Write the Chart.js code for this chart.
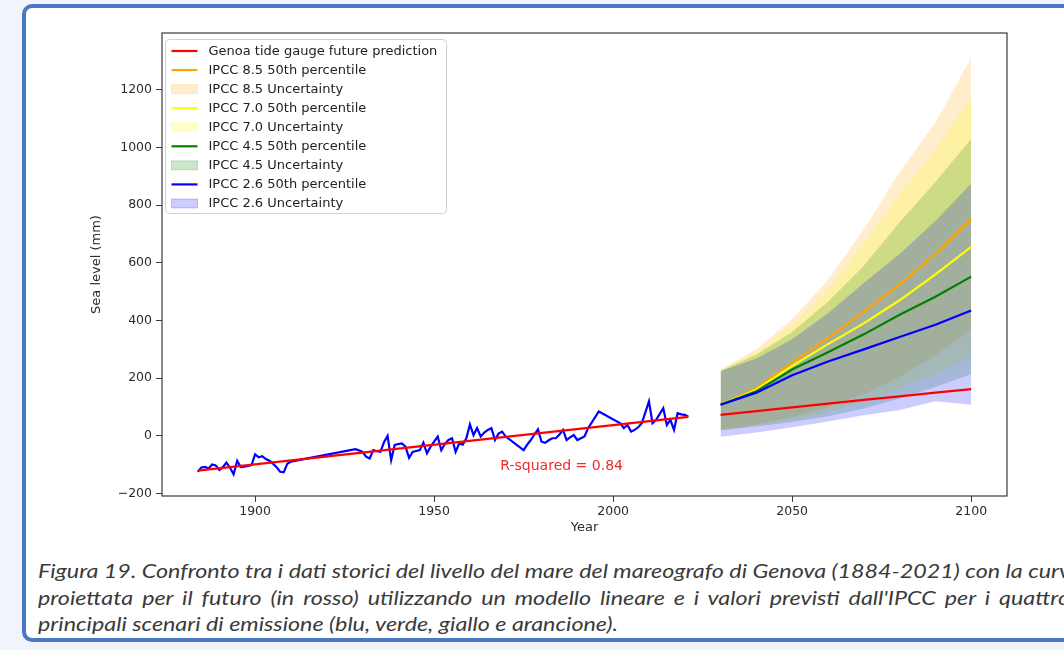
<!DOCTYPE html>
<html>
<head>
<meta charset="utf-8">
<script src="https://cdn.jsdelivr.net/npm/chart.js@4.4.1/dist/chart.umd.min.js"></script>
<style>
  html, body { margin: 0; padding: 0; }
  body { width: 1064px; height: 650px; background: #f1f5fb; overflow: hidden; position: relative; }
  #frame { position: absolute; left: 22px; top: 4px; width: 1090px; height: 638px; background: #fff;
           border: 4px solid #4a78c4; border-radius: 10px; box-sizing: border-box; }
  #chartBox { position: absolute; left: 0; top: 0; width: 1064px; height: 540px; }
  #caption { position: absolute; left: 38px; top: 558px; font-family: Lato, "Open Sans", sans-serif;
             font-style: italic; font-size: 19px; line-height: 26.5px; color: #3a3a3a;
             white-space: nowrap; transform-origin: 0 0; }
  #caption .just { text-align: justify; text-align-last: justify; }
</style>
</head>
<body>
<div id="frame"></div>
<div id="chartBox"><canvas id="seaLevelChart"></canvas></div>
<div id="caption">
  <div class="just">Figura 19. Confronto tra i dati storici del livello del mare del mareografo di Genova (1884-2021) con la curva</div>
  <div class="just">proiettata per il futuro (in rosso) utilizzando un modello lineare e i valori previsti dall'IPCC per i quattro</div>
  <div><span id="lastLine">principali scenari di emissione (blu, verde, giallo e arancione).</span></div>
</div>
<script>
// historical tide gauge record (mm), years with gaps are simply joined
const histYears = [
  1884, 1885, 1886, 1887, 1888, 1889, 1890, 1891, 1892, 1893, 1894, 1895, 1896, 1897, 1898, 1899,
  1900, 1901, 1902, 1903, 1904, 1905, 1906, 1907, 1908, 1909, 1910,
  1928, 1929, 1930, 1931, 1932, 1933, 1934, 1935, 1936, 1937, 1938, 1939, 1940, 1941, 1942, 1943,
  1944, 1945, 1946, 1947, 1948, 1949, 1950, 1951, 1952, 1953, 1954, 1955, 1956, 1957, 1958, 1959,
  1960, 1961, 1962, 1963, 1964, 1965, 1966, 1967, 1968, 1969, 1970,
  1975, 1976, 1977, 1978, 1979, 1980, 1981, 1982, 1983, 1984, 1985, 1986, 1987, 1988, 1989, 1990,
  1991, 1992, 1993, 1996,
  2002, 2003, 2004, 2005, 2006, 2007, 2008, 2010, 2011, 2012, 2014, 2015, 2016, 2017, 2018, 2019,
  2020, 2021
];
const histLevels = [
  -124, -109, -107, -113, -99, -102, -118, -108, -92, -110, -133, -86, -108, -106, -104, -101,
  -64, -74, -70, -80, -86, -96, -108, -124, -126, -96, -89,
  -46, -50, -55, -72, -78, -49, -53, -55, -22, 0, -84, -31, -28, -26, -37, -76,
  -55, -52, -49, -23, -60, -38, -20, -2, -49, -28, -14, -8, -55, -26, -30, -8,
  40, 3, 27, -2, 12, 21, 27, -14, 8, 15, -2,
  -49, -30, -14, 5, 23, -20, -24, -15, -8, -8, 5, 21, -14, -5, 3, -14,
  -8, -2, 27, 85,
  44, 27, 38, 15, 21, 30, 44, 120, 44, 56, 96, 38, 56, 21, 79, 75,
  73, 67
];

// linear fit of the record and its projection
const fitYears = [1884, 2021];
const fitLevels = [-120, 66];
const futureYears = [2030, 2040, 2050, 2060, 2070, 2080, 2090, 2100];
const genoaFuture = [73, 86, 99, 112, 125, 137, 150, 162];

// IPCC scenarios: 50th percentile and uncertainty range (mm)
const ipcc85Median = [108, 165, 255, 340, 430, 525, 630, 752];
const ipcc85Upper = [230, 300, 405, 540, 715, 915, 1085, 1310];
const ipcc85Lower = [20, 40, 65, 100, 145, 205, 280, 369];
const ipcc70Median = [108, 160, 243, 318, 390, 470, 560, 655];
const ipcc70Upper = [228, 292, 385, 505, 665, 835, 990, 1175];
const ipcc70Lower = [20, 38, 58, 85, 120, 165, 215, 275];
const ipcc45Median = [108, 155, 230, 290, 352, 420, 482, 552];
const ipcc45Upper = [226, 282, 360, 465, 590, 740, 880, 1030];
const ipcc45Lower = [20, 33, 48, 68, 95, 130, 170, 215];
const ipcc26Median = [108, 150, 210, 258, 300, 343, 385, 435];
const ipcc26Upper = [224, 268, 335, 425, 530, 630, 745, 875];
const ipcc26Lower = [-3, 12, 30, 50, 72, 90, 120, 108];

const xTicks = [1900, 1950, 2000, 2050, 2100];
const yTicks = [-200, 0, 200, 400, 600, 800, 1000, 1200];
const rSquaredText = "R-squared = 0.84";

const RED = "#ff0000", ORANGE = "#ffa500", YELLOW = "#ffff00", GREEN = "#008000", BLUE = "#0000ff";
const fillOf = { orange: "rgba(255,165,0,0.2)", yellow: "rgba(255,255,0,0.2)",
                 green: "rgba(0,128,0,0.2)", blue: "rgba(0,0,255,0.2)" };

function pts(xs, ys) {
  return xs.map((x, i) => ({ x: x, y: ys[i] }));
}

const datasets = [];
function addLine(label, xs, ys, color, order) {
  datasets.push({ label: label, data: pts(xs, ys), borderColor: color, borderWidth: 2.2,
                  pointRadius: 0, fill: false, order: order });
}
function addBand(label, lower, upper, color, order) {
  const lowIndex = datasets.length;
  datasets.push({ label: label + " low", data: pts(futureYears, lower), borderColor: "transparent",
                  borderWidth: 0, pointRadius: 0, fill: false, order: order });
  datasets.push({ label: label, data: pts(futureYears, upper), borderColor: "transparent",
                  borderWidth: 0, pointRadius: 0, backgroundColor: color,
                  fill: { target: lowIndex }, order: order });
}

// low order = drawn on top; lines sit above all the bands
addLine("Genoa tide gauge fit", fitYears, fitLevels, RED, 0);
addLine("Genoa tide gauge future prediction", futureYears, genoaFuture, RED, 0);
addLine("Genoa tide gauge", histYears, histLevels, BLUE, 1);
addLine("IPCC 2.6 50th percentile", futureYears, ipcc26Median, BLUE, 2);
addLine("IPCC 4.5 50th percentile", futureYears, ipcc45Median, GREEN, 3);
addLine("IPCC 7.0 50th percentile", futureYears, ipcc70Median, YELLOW, 4);
addLine("IPCC 8.5 50th percentile", futureYears, ipcc85Median, ORANGE, 5);
addBand("IPCC 2.6 Uncertainty", ipcc26Lower, ipcc26Upper, fillOf.blue, 6);
addBand("IPCC 4.5 Uncertainty", ipcc45Lower, ipcc45Upper, fillOf.green, 7);
addBand("IPCC 7.0 Uncertainty", ipcc70Lower, ipcc70Upper, fillOf.yellow, 8);
addBand("IPCC 8.5 Uncertainty", ipcc85Lower, ipcc85Upper, fillOf.orange, 9);

const legendItems = [
  ["Genoa tide gauge future prediction", "line", RED],
  ["IPCC 8.5 50th percentile", "line", ORANGE],
  ["IPCC 8.5 Uncertainty", "patch", fillOf.orange],
  ["IPCC 7.0 50th percentile", "line", YELLOW],
  ["IPCC 7.0 Uncertainty", "patch", fillOf.yellow],
  ["IPCC 4.5 50th percentile", "line", GREEN],
  ["IPCC 4.5 Uncertainty", "patch", fillOf.green],
  ["IPCC 2.6 50th percentile", "line", BLUE],
  ["IPCC 2.6 Uncertainty", "patch", fillOf.blue]
];

const FONT = "DejaVu Sans";
Chart.defaults.font.family = FONT;
Chart.defaults.font.size = 12.5;
Chart.defaults.color = "#2b2b2b";

const overlay = {
  id: "overlay",
  afterDraw(chart) {
    const ctx = chart.ctx;
    const ca = chart.chartArea;
    const xs = chart.scales.x, ys = chart.scales.y;
    ctx.save();

    // frame on all four sides
    ctx.strokeStyle = "#3a3a3a";
    ctx.lineWidth = 1.2;
    ctx.strokeRect(ca.left, ca.top, ca.right - ca.left, ca.bottom - ca.top);

    // r-squared note
    ctx.fillStyle = "#ee2a2a";
    ctx.font = "14px " + FONT;
    ctx.textBaseline = "middle";
    ctx.textAlign = "left";
    ctx.fillText(rSquaredText, xs.getPixelForValue(1968.5), ys.getPixelForValue(-107));

    // legend box, upper left
    const bx = ca.left + 3.5, by = ca.top + 6.5, bw = 281, bh = 174;
    ctx.beginPath();
    ctx.roundRect(bx, by, bw, bh, 4);
    ctx.fillStyle = "rgba(255,255,255,0.85)";
    ctx.fill();
    ctx.strokeStyle = "#d0d0d0";
    ctx.lineWidth = 1;
    ctx.stroke();

    ctx.font = "13px " + FONT;
    legendItems.forEach((item, i) => {
      const y = by + 11.5 + i * 19.06;
      if (item[1] === "line") {
        ctx.strokeStyle = item[2];
        ctx.lineWidth = 2.2;
        ctx.beginPath();
        ctx.moveTo(bx + 6, y);
        ctx.lineTo(bx + 32, y);
        ctx.stroke();
      } else {
        ctx.fillStyle = item[2];
        ctx.fillRect(bx + 6, y - 4.5, 26, 9);
        ctx.strokeStyle = item[2];
        ctx.lineWidth = 1;
        ctx.strokeRect(bx + 6, y - 4.5, 26, 9);
      }
      ctx.fillStyle = "#222";
      ctx.fillText(item[0], bx + 43, y + 0.5);
    });
    ctx.restore();
  }
};

function minusLabel(v) {
  return v < 0 ? "\u2212" + Math.abs(v) : String(v);
}

new Chart(document.getElementById("seaLevelChart"), {
  type: "line",
  data: { datasets: datasets },
  plugins: [overlay],
  options: {
    responsive: true,
    maintainAspectRatio: false,
    animation: false,
    layout: { padding: { left: 85, right: 57, top: 33, bottom: 3 } },
    plugins: { legend: { display: false }, tooltip: { enabled: false } },
    scales: {
      x: {
        type: "linear",
        min: 1874,
        max: 2110,
        afterBuildTicks: (s) => { s.ticks = xTicks.map((v) => ({ value: v })); },
        afterFit: (s) => { s.height = 41; },
        ticks: { autoSkip: false, maxRotation: 0, padding: 2, callback: (v) => String(v) },
        grid: { drawOnChartArea: false, drawTicks: true, tickLength: 6, color: "#3a3a3a" },
        border: { display: false },
        title: { display: true, text: "Year", font: { size: 13 }, padding: { top: 0, bottom: 2 } }
      },
      y: {
        type: "linear",
        min: -208,
        max: 1396,
        afterBuildTicks: (s) => { s.ticks = yTicks.map((v) => ({ value: v })); },
        afterFit: (s) => { s.width = 77; },
        ticks: { autoSkip: false, padding: 4, callback: (v) => minusLabel(v) },
        grid: { drawOnChartArea: false, drawTicks: true, tickLength: 6, color: "#3a3a3a" },
        border: { display: false },
        title: { display: true, text: "Sea level (mm)", font: { size: 13 }, padding: { top: 4, bottom: 4 } }
      }
    }
  }
});

// squeeze the caption like the narrow original font, justify the full lines
const caption = document.getElementById("caption");
const scale = 580 / document.getElementById("lastLine").getBoundingClientRect().width;
caption.style.transform = "scaleX(" + scale + ")";
document.querySelectorAll("#caption .just").forEach((el) => {
  el.style.width = (1032 / scale) + "px";
});
</script>
</body>
</html>
